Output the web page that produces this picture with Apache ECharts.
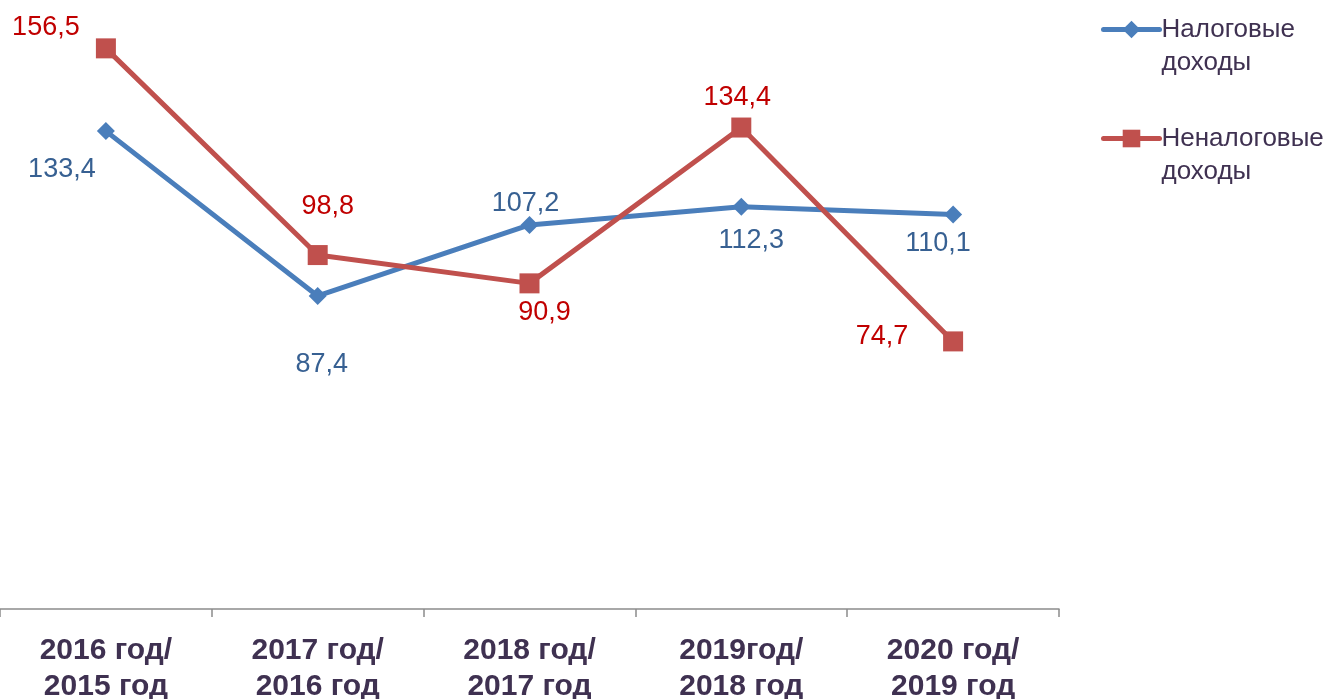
<!DOCTYPE html>
<html>
<head>
<meta charset="utf-8">
<script src="https://cdn.jsdelivr.net/npm/echarts@6/dist/echarts.min.js"></script>
<style>html,body{margin:0;padding:0;background:#fff;}#c{width:1330px;height:699px;}</style>
</head>
<body>
<div id="c"></div>
<script>
const categories = ['2016 год/\n2015 год', '2017 год/\n2016 год', '2018 год/\n2017 год', '2019год/\n2018 год', '2020 год/\n2019 год'];
const taxName = 'Налоговые\nдоходы';
const nonTaxName = 'Неналоговые\nдоходы';
const taxValues = [133.4, 87.4, 107.2, 112.3, 110.1];
const nonTaxValues = [156.5, 98.8, 90.9, 134.4, 74.7];

const taxOffsets = [[-44, 38], [4, 69], [-4, -21], [10, 34], [-15, 29]];
const nonTaxOffsets = [[-60, -21], [10, -49], [15, 29], [-4, -30], [-71, -5]];

const fmt = v => String(v).replace('.', ',');
function mkData(vals, offs, color) {
  return vals.map((v, i) => ({
    value: v,
    label: { show: true, position: 'inside', offset: offs[i], color: color, fontSize: 27,
      fontFamily: 'Liberation Sans', formatter: p => fmt(p.value) }
  }));
}

const chart = echarts.init(document.getElementById('c'));
chart.setOption({
  animation: false,
  grid: { left: 0, right: 271, top: 0, bottom: 90, containLabel: false, outerBoundsMode: 'none' },
  legend: {
    orient: 'vertical', left: 1101, top: -20, padding: 0, itemWidth: 56, itemHeight: 22, itemGap: 10,
    lineStyle: { width: 5, cap: 'round' },
    formatter: name => ' \n' + name,
    textStyle: { fontSize: 26, color: '#3f3151', fontFamily: 'Liberation Sans', lineHeight: 33, padding: [0, 0, 0, -3] },
    data: [taxName, nonTaxName]
  },
  xAxis: {
    type: 'category', data: categories, boundaryGap: true,
    axisLine: { lineStyle: { color: '#8c8c8c', width: 1.5 } },
    axisTick: { show: true, length: 8, lineStyle: { color: '#8c8c8c', width: 1.5 } },
    axisLabel: { fontSize: 30, fontWeight: 'bold', color: '#3f3151', fontFamily: 'Liberation Sans', lineHeight: 36, margin: 24, interval: 0 }
  },
  yAxis: { type: 'value', min: 0, max: 170, show: false, splitLine: { show: false } },
  series: [
    { name: taxName, type: 'line', data: mkData(taxValues, taxOffsets, '#376092'),
      symbol: 'diamond', symbolSize: 18, lineStyle: { width: 5, color: '#4a7ebb' },
      itemStyle: { color: '#4a7ebb' }, z: 3 },
    { name: nonTaxName, type: 'line', data: mkData(nonTaxValues, nonTaxOffsets, '#c00000'),
      symbol: 'rect', symbolSize: 20, lineStyle: { width: 5, color: '#c0504d' },
      itemStyle: { color: '#c0504d' }, z: 4 }
  ]
});
</script>
</body>
</html>
